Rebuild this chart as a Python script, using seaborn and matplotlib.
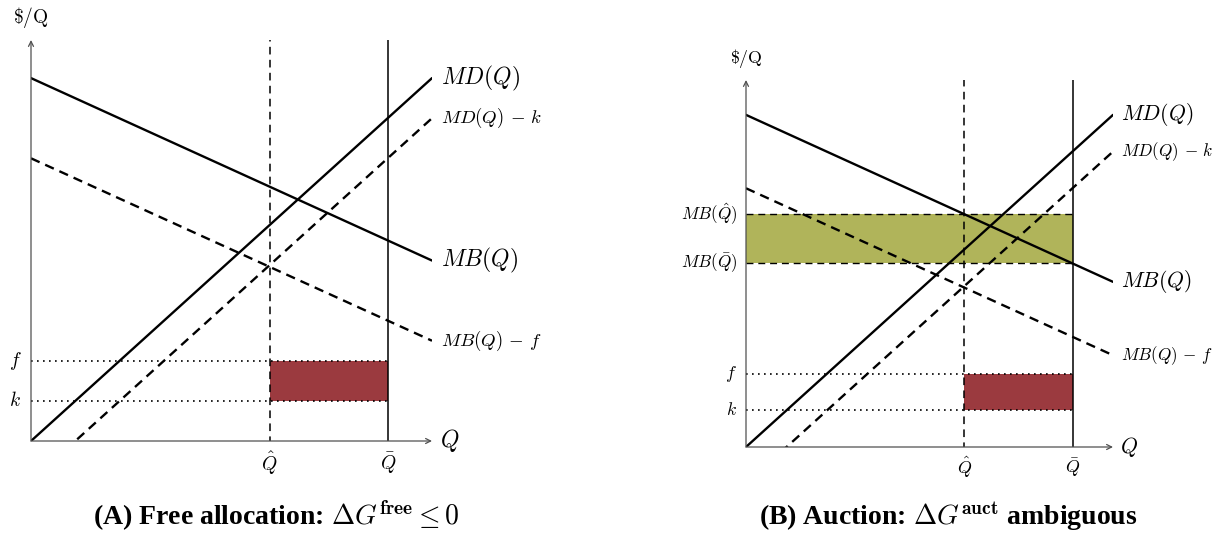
import numpy as np
import matplotlib
matplotlib.use("Agg")
import matplotlib.pyplot as plt
import seaborn as sns

# ---- model values (quantity on x, $/Q on y) ----
q_ends = [0.0, 10.0]          # plotted quantity range
mb_ends = [9.05, 4.5]         # marginal benefit MB(Q) at the two ends
md_ends = [0.0, 9.05]         # marginal damage MD(Q) at the two ends
k_cost = 1.0                  # per-unit cost k
f_cost = 2.0                  # per-unit fee f
q_hat = 5.95                  # \hat{Q}
q_bar = 8.9                   # \bar{Q}

captions = [r"(A) Free allocation: $\Delta G^{\mathbf{free}} \leq 0$",
            r"(B) Auction: $\Delta G^{\mathbf{auct}}$ ambiguous"]

RED = "#9b3a3f"
OLIVE = "#b0b45a"
AXIS_GREY = "#505050"

sns.set_theme(style="white")
plt.rcParams["mathtext.fontset"] = "cm"
plt.rcParams["font.family"] = ["DejaVu Serif"]
plt.rcParams["text.color"] = "black"

W, H = 1221, 536
fig = plt.figure(figsize=(W / 100, H / 100), dpi=100)
PX = 0.72  # points per pixel at 100 dpi

# panel frames in pixels: left, right, bottom (y=0), top (y=10)
panels = [
    dict(x0=31, x1=432, y0=441, y1=40, s=1.0, band=False, cap_x=276),
    dict(x0=746, x1=1113, y0=447, y1=80, s=0.913, band=True, cap_x=948),
]


def label(ax, text, xy, dx, dy, size, ha="center", va="center"):
    ax.annotate(text, xy=xy, xytext=(dx * PX, dy * PX), textcoords="offset points",
                ha=ha, va=va, fontsize=size, annotation_clip=False, color="black")


def arrow(ax, start, end, lw):
    ax.annotate("", xy=end, xytext=start,
                arrowprops=dict(arrowstyle="->", color=AXIS_GREY, lw=lw,
                                shrinkA=0, shrinkB=0, mutation_scale=9),
                annotation_clip=False)


mb = np.array(mb_ends)
md = np.array(md_ends)
mb_qhat = float(np.interp(q_hat, q_ends, mb))
mb_qbar = float(np.interp(q_bar, q_ends, mb))

for i, p in enumerate(panels):
    s = p["s"]
    ax = fig.add_axes([p["x0"] / W, 1 - p["y0"] / H,
                       (p["x1"] - p["x0"]) / W, (p["y0"] - p["y1"]) / H])

    # shaded areas
    if p["band"]:
        ax.fill_between([0, q_bar], mb_qbar, mb_qhat, color=OLIVE, lw=0, zorder=1)
        for yv in (mb_qhat, mb_qbar):
            ax.plot([0, q_bar], [yv, yv], color="black", lw=1.0,
                    linestyle=(0, (5, 3.5)), zorder=2)
    ax.fill_between([q_hat, q_bar], k_cost, f_cost, color=RED, lw=0, zorder=1)

    # f and k reference levels
    for yv in (f_cost, k_cost):
        ax.plot([0, q_bar], [yv, yv], color="black", lw=1.2,
                linestyle=(0, (1, 2.6)), zorder=2)

    # quantity markers
    ax.plot([q_hat, q_hat], [0, 10], color="black", lw=1.1,
            linestyle=(2, (5, 3.5)), zorder=2)
    ax.plot([q_bar, q_bar], [0, 10], color="black", lw=1.1, zorder=2)

    # curves
    sns.lineplot(x=q_ends, y=mb, ax=ax, color="black", linewidth=1.7, zorder=3)
    sns.lineplot(x=q_ends, y=md, ax=ax, color="black", linewidth=1.7, zorder=3)
    sns.lineplot(x=q_ends, y=mb - f_cost, ax=ax, color="black", linewidth=1.7,
                 linestyle=(0, (4, 2.6)), zorder=3)
    sns.lineplot(x=q_ends, y=md - k_cost, ax=ax, color="black", linewidth=1.7,
                 linestyle=(0, (4, 2.6)), zorder=3)

    ax.set_xlim(0, 10)
    ax.set_ylim(0, 10)
    ax.set_axis_off()

    # axes with arrow heads
    arrow(ax, (0, 0), (10, 0), 0.9)
    arrow(ax, (0, 0), (0, 10), 0.9)

    big, small, mid = 17 * s, 13.5 * s, 14 * s
    label(ax, r"$\$/\mathrm{Q}$", (0, 10), 0, 22, mid)
    label(ax, r"$Q$", (10, 0), 18 * s, 0, big)
    label(ax, r"$\hat{Q}$", (q_hat, 0), 0, -22 * s, mid)
    label(ax, r"$\bar{Q}$", (q_bar, 0), 0, -22 * s, mid)
    label(ax, r"$f$", (0, f_cost), -16 * s, 0, mid)
    label(ax, r"$k$", (0, k_cost), -16 * s, 0, mid)

    label(ax, r"$MD(Q)$", (10, md[1]), 9 * s, 0, big, ha="left")
    label(ax, r"$MB(Q)$", (10, mb[1]), 9 * s, 0, big, ha="left")
    label(ax, r"$MD(Q)\,-\,k$", (10, md[1] - k_cost), 9 * s, 0, small, ha="left")
    label(ax, r"$MB(Q)\,-\,f$", (10, mb[1] - f_cost), 9 * s, 0, small, ha="left")
    if p["band"]:
        label(ax, r"$MB(\hat{Q})$", (0, mb_qhat), -8, 0, small, ha="right")
        label(ax, r"$MB(\bar{Q})$", (0, mb_qbar), -8, 0, small, ha="right")

    fig.text(p["cap_x"] / W, 1 - 516 / H, captions[i], ha="center", va="center",
             fontsize=20, fontweight="bold", family=["Liberation Serif"],
             color="black")

fig.savefig("out.png", dpi=100)
